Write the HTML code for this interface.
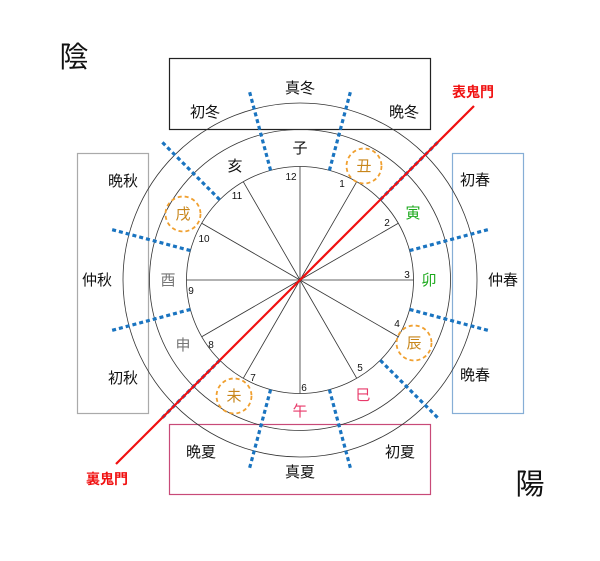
<!DOCTYPE html>
<html><head><meta charset="utf-8"><style>
html,body{margin:0;padding:0;background:#fff;}
svg{display:block;font-family:"Liberation Sans","Noto Sans CJK JP",sans-serif;}
</style></head><body>
<svg width="600" height="561" viewBox="0 0 600 561" xmlns="http://www.w3.org/2000/svg">
<rect x="0" y="0" width="600" height="561" fill="#fff"/>
<rect x="169.5" y="58.5" width="261" height="71" fill="none" stroke="#222" stroke-width="1.2"/>
<rect x="169.5" y="424.5" width="261" height="70" fill="none" stroke="#c84a78" stroke-width="1.2"/>
<rect x="77.5" y="153.5" width="71" height="260" fill="none" stroke="#aaa" stroke-width="1.2"/>
<rect x="452.5" y="153.5" width="71" height="260" fill="none" stroke="#86aed6" stroke-width="1.2"/>
<g fill="none" stroke="#333" stroke-width="0.8">
<circle cx="300" cy="280" r="177"/>
<circle cx="300" cy="280" r="150.5"/>
<circle cx="300" cy="280" r="113.5"/>
</g>
<g stroke="#333" stroke-width="0.8">
<line x1="300" y1="280" x2="300" y2="166.5"/>
<line x1="300" y1="280" x2="356.75" y2="181.7"/>
<line x1="300" y1="280" x2="398.3" y2="223.25"/>
<line x1="300" y1="280" x2="413.5" y2="280"/>
<line x1="300" y1="280" x2="398.3" y2="336.75"/>
<line x1="300" y1="280" x2="356.75" y2="378.3"/>
<line x1="300" y1="280" x2="300" y2="393.5"/>
<line x1="300" y1="280" x2="243.25" y2="378.3"/>
<line x1="300" y1="280" x2="201.7" y2="336.75"/>
<line x1="300" y1="280" x2="186.5" y2="280"/>
<line x1="300" y1="280" x2="201.7" y2="223.25"/>
<line x1="300" y1="280" x2="243.25" y2="181.7"/>
</g>
<g stroke="#1a74c0" stroke-width="3.2" stroke-dasharray="4,3">
<line x1="329.4" y1="170.4" x2="350.5" y2="91.6"/>
<line x1="380.3" y1="199.7" x2="438" y2="142"/>
<line x1="409.6" y1="250.6" x2="488.4" y2="229.5"/>
<line x1="409.6" y1="309.4" x2="488.4" y2="330.5"/>
<line x1="380.3" y1="360.3" x2="438" y2="418"/>
<line x1="329.4" y1="389.6" x2="350.5" y2="468.4"/>
<line x1="270.6" y1="389.6" x2="249.5" y2="468.4"/>
<line x1="219.7" y1="360.3" x2="162" y2="418"/>
<line x1="190.4" y1="309.4" x2="111.6" y2="330.5"/>
<line x1="190.4" y1="250.6" x2="111.6" y2="229.5"/>
<line x1="219.7" y1="199.7" x2="162" y2="142"/>
<line x1="270.6" y1="170.4" x2="249.5" y2="91.6"/>
</g>
<line x1="116" y1="464" x2="474" y2="106" stroke="#f01010" stroke-width="2.2"/>
<g fill="none" stroke="#f0a030" stroke-width="1.8" stroke-dasharray="4,3">
<circle cx="364" cy="166" r="17.5"/>
<circle cx="414" cy="343" r="17.5"/>
<circle cx="234" cy="396" r="17.5"/>
<circle cx="183" cy="214" r="17.5"/>
</g>
<g font-size="10" fill="#111" text-anchor="middle">
<text x="291" y="180">12</text>
<text x="342" y="187">1</text>
<text x="387" y="226">2</text>
<text x="407" y="278">3</text>
<text x="397" y="327">4</text>
<text x="360" y="371">5</text>
<text x="304" y="391">6</text>
<text x="253" y="381">7</text>
<text x="211" y="348">8</text>
<text x="191" y="294">9</text>
<text x="204" y="242">10</text>
<text x="237" y="199">11</text>
</g>
<g font-size="15" text-anchor="middle">
<text x="300" y="153" fill="#111">子</text>
<text x="364" y="171" fill="#c8861a">丑</text>
<text x="413" y="218" fill="#1aa81a">寅</text>
<text x="429" y="285" fill="#1aa81a">卯</text>
<text x="414" y="348" fill="#c8861a">辰</text>
<text x="363" y="400" fill="#e83a6a">巳</text>
<text x="300" y="416" fill="#e83a6a">午</text>
<text x="234" y="401" fill="#c8861a">未</text>
<text x="183" y="350" fill="#777">申</text>
<text x="168" y="285" fill="#777">酉</text>
<text x="183" y="219" fill="#c8861a">戌</text>
<text x="235" y="171" fill="#111">亥</text>
</g>
<g font-size="15" text-anchor="middle" fill="#111">
<text x="300" y="93">真冬</text>
<text x="205" y="117">初冬</text>
<text x="404" y="117">晩冬</text>
<text x="475" y="185">初春</text>
<text x="503" y="285">仲春</text>
<text x="475" y="380">晩春</text>
<text x="123" y="186">晩秋</text>
<text x="97" y="285">仲秋</text>
<text x="123" y="383">初秋</text>
<text x="201" y="457">晩夏</text>
<text x="300" y="477">真夏</text>
<text x="400" y="457">初夏</text>
</g>
<g font-size="14" font-weight="bold" fill="#f01010" text-anchor="middle">
<text x="473" y="97">表鬼門</text>
<text x="107" y="484">裏鬼門</text>
</g>
<text x="74" y="67" font-size="29" text-anchor="middle" fill="#111">陰</text>
<text x="530" y="494" font-size="29" text-anchor="middle" fill="#111">陽</text>
</svg>
</body></html>
